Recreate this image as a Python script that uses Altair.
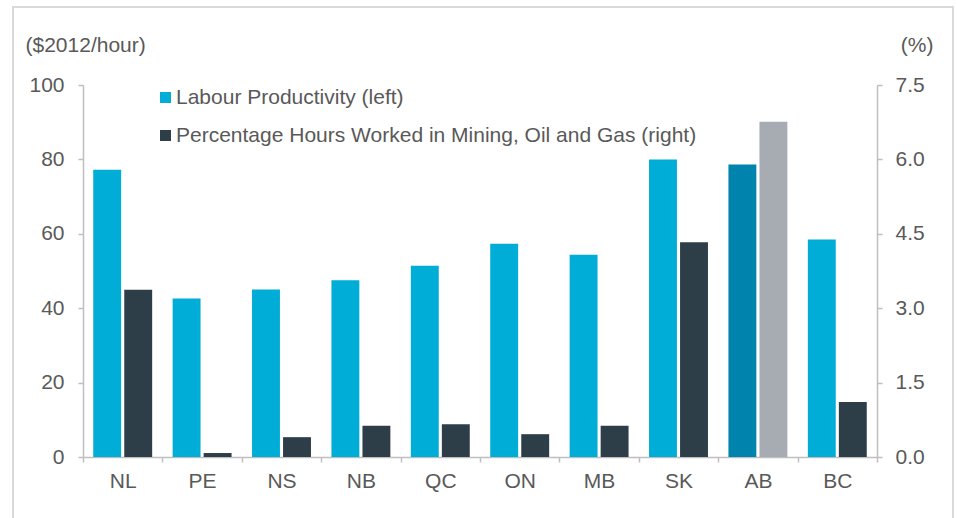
import altair as alt
import pandas as pd

provinces = ["NL", "PE", "NS", "NB", "QC", "ON", "MB", "SK", "AB", "BC"]
productivity = [77.2, 42.6, 45.0, 47.5, 51.4, 57.3, 54.4, 80.0, 78.6, 58.5]
hours_pct = [3.37, 0.08, 0.40, 0.63, 0.66, 0.46, 0.63, 4.33, 6.76, 1.11]

S1 = "Labour Productivity (left)"
S2 = "Percentage Hours Worked in Mining, Oil and Gas (right)"
AB1 = "AB productivity"
AB2 = "AB hours"
color_domain = [S1, S2, AB1, AB2]
color_range = ["#00ADD7", "#2D3E48", "#0083AD", "#A6ACB2"]

prod_df = pd.DataFrame({
    "province": provinces,
    "value": productivity,
    "series": S1,
    "key": [AB1 if p == "AB" else S1 for p in provinces],
})
hours_df = pd.DataFrame({
    "province": provinces,
    "value": hours_pct,
    "series": S2,
    "key": [AB2 if p == "AB" else S2 for p in provinces],
})

FONT = "Liberation Sans"
FS = 21
TXT = "#595959"
AX = "#BFBFBF"

x_enc = alt.X(
    "province:N",
    sort=provinces,
    title=None,
    scale=alt.Scale(paddingInner=0, paddingOuter=0),
    axis=alt.Axis(
        tickBand="extent", labelAngle=0, domainColor=AX, domainWidth=1.5,
        tickColor=AX, tickWidth=1.5, tickSize=5, labelPadding=8,
        labelFontSize=FS, labelColor=TXT, labelFont=FONT,
    ),
)
xoff = alt.XOffset(
    "series:N",
    scale=alt.Scale(domain=[S1, S2], paddingInner=0.1, paddingOuter=0.33),
)
color_enc = alt.Color(
    "key:N",
    scale=alt.Scale(domain=color_domain, range=color_range),
    legend=alt.Legend(
        values=[S1, S2], title=None, orient="none", legendX=72, legendY=2,
        symbolType="square", symbolSize=121, symbolStrokeWidth=0,
        labelFontSize=FS, labelFont=FONT, labelColor=TXT, labelOffset=0,
        rowPadding=16, padding=0, labelLimit=700,
    ),
)

prod = alt.Chart(prod_df).mark_bar().encode(
    x=x_enc,
    xOffset=xoff,
    y=alt.Y(
        "value:Q",
        scale=alt.Scale(domain=[0, 100], nice=False),
        axis=alt.Axis(
            values=[0, 20, 40, 60, 80, 100], orient="left", grid=False,
            title="($2012/hour)", titleAngle=0, titleAlign="left",
            titleBaseline="middle", titleX=-58, titleY=-40,
            titleFontSize=FS, titleFont=FONT, titleColor=TXT, titleFontWeight="normal",
            domainColor=AX, domainWidth=1.5, tickColor=AX, tickWidth=1.5, tickSize=5,
            labelPadding=14, labelFontSize=FS, labelColor=TXT, labelFont=FONT,
        ),
    ),
    color=color_enc,
)

hours = alt.Chart(hours_df).mark_bar().encode(
    x=x_enc,
    xOffset=xoff,
    y=alt.Y(
        "value:Q",
        scale=alt.Scale(domain=[0, 7.5], nice=False),
        axis=alt.Axis(
            values=[0, 1.5, 3.0, 4.5, 6.0, 7.5], format=".1f", orient="right", grid=False,
            title="(%)", titleAngle=0, titleAlign="right",
            titleBaseline="middle", titleX=56, titleY=-40,
            titleFontSize=FS, titleFont=FONT, titleColor=TXT, titleFontWeight="normal",
            domainColor=AX, domainWidth=1.5, tickColor=AX, tickWidth=1.5, tickSize=5,
            labelPadding=13, labelFontSize=FS, labelColor=TXT, labelFont=FONT,
        ),
    ),
    color=color_enc,
)

frame = alt.Chart(alt.Data(values=[{"f": 1}])).mark_rect(
    fill=None, stroke="#D9D9D9", strokeWidth=2
).encode(
    x=alt.value(-70), x2=alt.value(870), y=alt.value(-78), y2=alt.value(450)
)

chart = alt.layer(frame, prod, hours).resolve_scale(y="independent").properties(
    width=794,
    height=372,
    autosize=alt.AutoSizeParams(type="none"),
    padding={"left": 83, "top": 85, "right": 80, "bottom": 61},
    background="white",
).configure_view(stroke=None)

chart.save("out.html", embed_options={"renderer": "svg", "actions": False})
